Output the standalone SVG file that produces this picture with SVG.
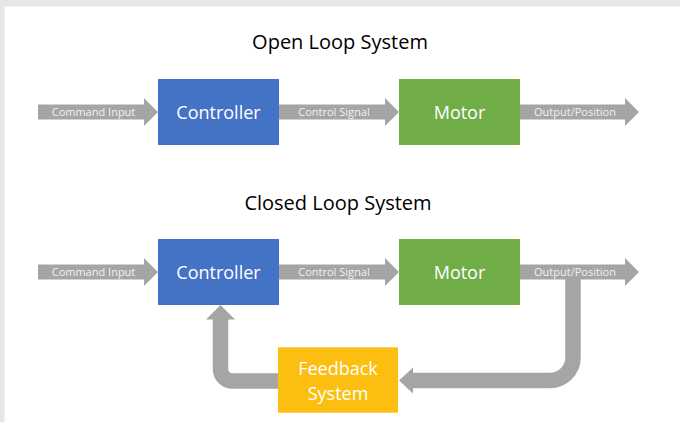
<svg xmlns="http://www.w3.org/2000/svg" width="680" height="422" viewBox="0 0 680 422">
<style>
.title{font-family:"Open Sans","Noto Sans",sans-serif;font-size:20px;fill:#000;text-anchor:middle}
.lbl{font-family:"Open Sans","Noto Sans",sans-serif;font-size:18px;fill:#fff;text-anchor:middle}
.alb{font-family:"Open Sans","Noto Sans",sans-serif;font-size:11px;fill:#f2f2f2;text-anchor:middle}
.arr{fill:#a5a5a5}
.flow{fill:none;stroke:#a5a5a5;stroke-width:15.5;stroke-linejoin:miter;stroke-linecap:butt}
.blue{fill:#4472c4}.green{fill:#70ad47}.yellow{fill:#fcbf11}
</style>
<rect x="0" y="0" width="680" height="422" fill="#e6e7e9"/>
<rect x="4.5" y="6.5" width="675.5" height="415.5" fill="#ffffff"/>
<text class="title" x="340" y="49.3">Open Loop System</text>
<text class="title" x="338" y="210">Closed Loop System</text>
<g id="connectors">
<polygon class="arr" points="38,104.5 144,104.5 144,98 158,112 144,126 144,119.5 38,119.5"/>
<text class="alb" x="93.5" y="116">Command Input</text>
<polygon class="arr" points="279,104.5 385,104.5 385,98 399,112 385,126 385,119.5 279,119.5"/>
<text class="alb" x="334" y="116">Control Signal</text>
<polygon class="arr" points="520,104.5 625,104.5 625,98 639,112 625,126 625,119.5 520,119.5"/>
<text class="alb" x="575" y="116">Output/Position</text>
<polygon class="arr" points="38,264.5 144,264.5 144,258 158,272 144,286 144,279.5 38,279.5"/>
<text class="alb" x="93.5" y="276">Command Input</text>
<polygon class="arr" points="279,264.5 385,264.5 385,258 399,272 385,286 385,279.5 279,279.5"/>
<text class="alb" x="334" y="276">Control Signal</text>
<path class="flow" d="M573,275 V357.5 A23,23 0 0 1 550,380.5 H412"/>
<polygon class="arr" points="413,367.5 399,380.5 413,393.5"/>
<polygon class="arr" points="520,264.5 625,264.5 625,258 639,272 625,286 625,279.5 520,279.5"/>
<text class="alb" x="575" y="276">Output/Position</text>
<path class="flow" d="M279,381 H232.5 A12,12 0 0 1 220.5,369 V318.5"/>
<polygon class="arr" points="206,319.5 220.5,305 235,319.5"/>
</g>
<g id="open-controller"><rect class="blue" x="158" y="79" width="121" height="66"/><text class="lbl" x="218.5" y="119.3">Controller</text></g>
<g id="open-motor"><rect class="green" x="399" y="79" width="121" height="66"/><text class="lbl" x="459.5" y="119.3">Motor</text></g>
<g id="closed-controller"><rect class="blue" x="158" y="239" width="121" height="66"/><text class="lbl" x="218.5" y="279.3">Controller</text></g>
<g id="closed-motor"><rect class="green" x="399" y="239" width="121" height="66"/><text class="lbl" x="459.5" y="279.3">Motor</text></g>
<g id="feedback"><rect class="yellow" x="278" y="347.3" width="120" height="65.4"/><text class="lbl" x="338" y="375">Feedback</text><text class="lbl" x="338" y="400">System</text></g>
</svg>
